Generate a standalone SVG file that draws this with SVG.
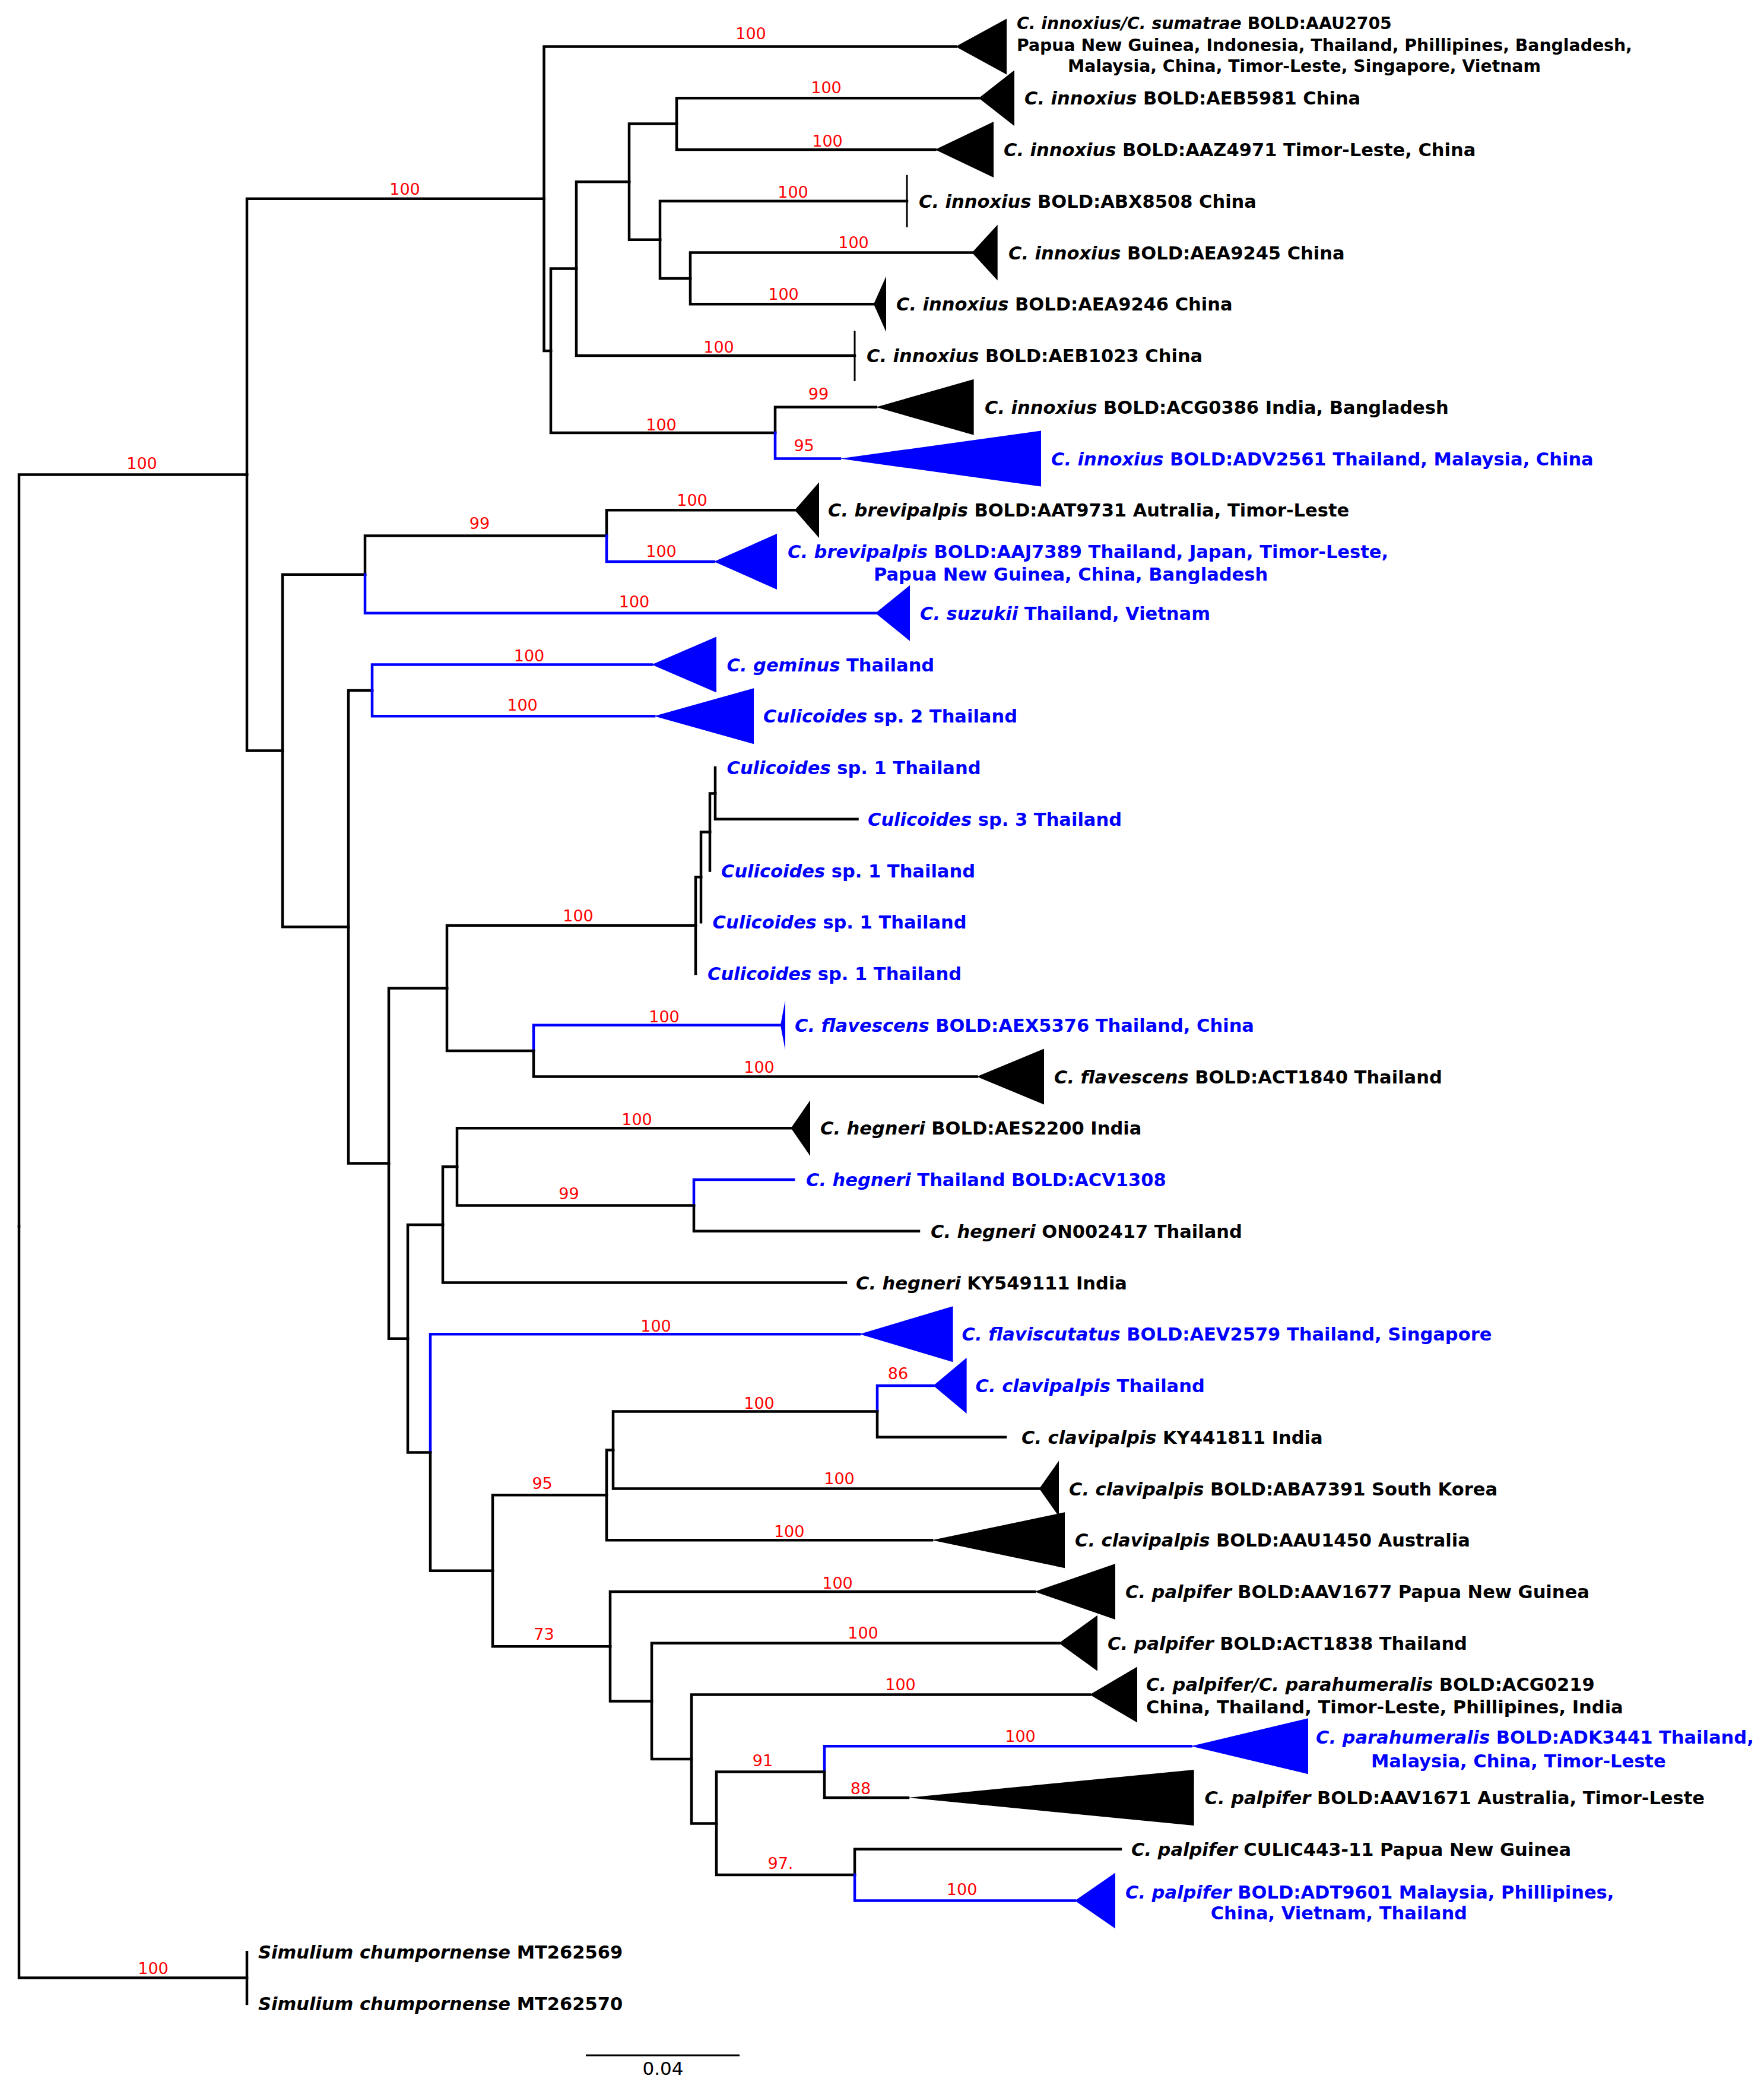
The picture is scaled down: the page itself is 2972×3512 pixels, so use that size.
<svg xmlns="http://www.w3.org/2000/svg" width="2972" height="3512" viewBox="0 0 2972 3512">
<style>
.b{fill:none;stroke:#000;stroke-width:4.5;stroke-linecap:square;stroke-linejoin:miter}
.u{stroke:#0000ff}
.bar{fill:none;stroke:#000;stroke-width:3}
.tk{fill:#000}
.tb{fill:#0000ff}
.lab{font-family:"DejaVu Sans",Verdana,sans-serif;font-weight:bold;font-size:30.5px;fill:#000}
.sm{font-size:28.3px}
.lb{fill:#0000ff}
.it{font-style:italic}
.sup{font-family:"DejaVu Sans",Verdana,sans-serif;font-size:27px;fill:#ff0000;text-anchor:middle}
.sc{font-family:"DejaVu Sans",Verdana,sans-serif;font-size:31px;fill:#000;text-anchor:middle}
</style>
<rect width="2972" height="3512" fill="#fff"/>
<g id="connectors">
<path class="b" d="M32 2065.6V799.6H416"/>
<path class="b" d="M32 2065.6V3331.6H416"/>
<path class="b" d="M416 3288.25V3375"/>
<path class="b" d="M416 799.6V334.7H916.5"/>
<path class="b" d="M416 799.6V1264.5H476"/>
<path class="b" d="M916.5 334.7V78.5H1610"/>
<path class="b" d="M916.5 334.7V590.9H928"/>
<path class="b" d="M928 590.9V452.6H971"/>
<path class="b" d="M928 590.9V729.1H1306"/>
<path class="b" d="M971 452.6V306.2H1060"/>
<path class="b" d="M971 452.6V599H1440"/>
<path class="b" d="M1060 306.2V208.6H1140"/>
<path class="b" d="M1060 306.2V403.8H1112"/>
<path class="b" d="M1140 208.6V165.25H1649"/>
<path class="b" d="M1140 208.6V252H1575.5"/>
<path class="b" d="M1112 403.8V338.75H1528"/>
<path class="b" d="M1112 403.8V468.9H1163"/>
<path class="b" d="M1163 468.9V425.5H1637.6"/>
<path class="b" d="M1163 468.9V512.25H1472"/>
<path class="b" d="M1306 729.1V685.75H1476"/>
<path class="b u" d="M1306 729.1V772.5H1415"/>
<path class="b" d="M476 1264.5V967.7H615"/>
<path class="b" d="M476 1264.5V1561.3H587"/>
<path class="b" d="M615 967.7V902.6H1022"/>
<path class="b u" d="M615 967.7V1032.75H1475"/>
<path class="b" d="M1022 902.6V859.25H1339"/>
<path class="b u" d="M1022 902.6V946H1203"/>
<path class="b" d="M587 1561.3V1162.9H627"/>
<path class="b" d="M587 1561.3V1959.6H655"/>
<path class="b u" d="M627 1162.9V1119.5H1098"/>
<path class="b u" d="M627 1162.9V1206.25H1102"/>
<path class="b" d="M655 1959.6V1664.4H753"/>
<path class="b" d="M655 1959.6V2254.7H687"/>
<path class="b" d="M753 1664.4V1558.7H1172"/>
<path class="b" d="M753 1664.4V1770.1H899"/>
<path class="b" d="M1172 1558.7V1477.3H1181"/>
<path class="b" d="M1172 1558.7V1640"/>
<path class="b" d="M1181 1477.3V1401.4H1196"/>
<path class="b" d="M1181 1477.3V1553.25"/>
<path class="b" d="M1196 1401.4V1336.4H1205"/>
<path class="b" d="M1196 1401.4V1466.5"/>
<path class="b" d="M1205 1336.4V1293"/>
<path class="b" d="M1205 1336.4V1379.75H1444.5"/>
<path class="b u" d="M899 1770.1V1726.75H1315"/>
<path class="b" d="M899 1770.1V1813.5H1645.6"/>
<path class="b" d="M687 2254.7V2062.9H746"/>
<path class="b" d="M687 2254.7V2446.5H725"/>
<path class="b" d="M746 2062.9V1965.3H770"/>
<path class="b" d="M746 2062.9V2160.5H1425"/>
<path class="b" d="M770 1965.3V1900.25H1332.6"/>
<path class="b" d="M770 1965.3V2030.4H1169"/>
<path class="b u" d="M1169 2030.4V1987H1337"/>
<path class="b" d="M1169 2030.4V2073.75H1548"/>
<path class="b u" d="M725 2446.5V2247.25H1448"/>
<path class="b" d="M725 2446.5V2645.8H830"/>
<path class="b" d="M830 2645.8V2518.3H1022"/>
<path class="b" d="M830 2645.8V2773.2H1028"/>
<path class="b" d="M1022 2518.3V2442.4H1033"/>
<path class="b" d="M1022 2518.3V2594.25H1570"/>
<path class="b" d="M1033 2442.4V2377.4H1478"/>
<path class="b" d="M1033 2442.4V2507.5H1751"/>
<path class="b u" d="M1478 2377.4V2334H1572.5"/>
<path class="b" d="M1478 2377.4V2420.75H1694"/>
<path class="b" d="M1028 2773.2V2681H1743"/>
<path class="b" d="M1028 2773.2V2865.4H1098"/>
<path class="b" d="M1098 2865.4V2767.75H1784"/>
<path class="b" d="M1098 2865.4V2963H1165"/>
<path class="b" d="M1165 2963V2854.5H1836"/>
<path class="b" d="M1165 2963V3071.4H1207"/>
<path class="b" d="M1207 3071.4V2984.6H1389"/>
<path class="b" d="M1207 3071.4V3158.1H1440"/>
<path class="b u" d="M1389 2984.6V2941.25H2006.6"/>
<path class="b" d="M1389 2984.6V3028H1530"/>
<path class="b" d="M1440 3158.1V3114.75H1888"/>
<path class="b u" d="M1440 3158.1V3201.5H1811"/>
</g>
<g id="support-values">
<text class="sup" x="682" y="328">100</text>
<text class="sup" x="1265" y="65.5">100</text>
<text class="sup" x="1392" y="157">100</text>
<text class="sup" x="1394" y="246.5">100</text>
<text class="sup" x="1336" y="332.6">100</text>
<text class="sup" x="1438" y="417.6">100</text>
<text class="sup" x="1320" y="504.5">100</text>
<text class="sup" x="1211" y="593.6">100</text>
<text class="sup" x="1114" y="724.8">100</text>
<text class="sup" x="1379" y="673">99</text>
<text class="sup" x="1354.6" y="760.4">95</text>
<text class="sup" x="239" y="790">100</text>
<text class="sup" x="1166" y="852">100</text>
<text class="sup" x="1114" y="938">100</text>
<text class="sup" x="808" y="891">99</text>
<text class="sup" x="1068.5" y="1023">100</text>
<text class="sup" x="891.5" y="1114">100</text>
<text class="sup" x="880" y="1197.4">100</text>
<text class="sup" x="974" y="1551.7">100</text>
<text class="sup" x="1119" y="1722">100</text>
<text class="sup" x="1279" y="1807">100</text>
<text class="sup" x="1073" y="1895">100</text>
<text class="sup" x="958.5" y="2019.7">99</text>
<text class="sup" x="1105" y="2242.5">100</text>
<text class="sup" x="1513" y="2323">86</text>
<text class="sup" x="1279" y="2372.6">100</text>
<text class="sup" x="1414" y="2500">100</text>
<text class="sup" x="1329.7" y="2589">100</text>
<text class="sup" x="913.6" y="2507.6">95</text>
<text class="sup" x="916.4" y="2762">73</text>
<text class="sup" x="1411" y="2676">100</text>
<text class="sup" x="1454" y="2760">100</text>
<text class="sup" x="1517" y="2847">100</text>
<text class="sup" x="1719" y="2934">100</text>
<text class="sup" x="1285" y="2974.5">91</text>
<text class="sup" x="1450" y="3021.7">88</text>
<text class="sup" x="1293.5" y="3148" style="text-anchor:start">97.</text>
<text class="sup" x="1620.6" y="3191.7">100</text>
<text class="sup" x="258" y="3325">100</text>
</g>
<g id="leaf-01"><polygon class="tk" points="1610,78.5 1696,31.5 1696,125.5"/>
<text class="lab sm" x="1713" y="49"><tspan class="it">C. innoxius/C. sumatrae</tspan> BOLD:AAU2705</text>
<text class="lab sm" x="1713" y="86">Papua New Guinea, Indonesia, Thailand, Phillipines, Bangladesh,</text>
<text class="lab sm" x="1799" y="121">Malaysia, China, Timor-Leste, Singapore, Vietnam</text></g>
<g id="leaf-02"><polygon class="tk" points="1649,165.25 1709,118.25 1709,212.25"/>
<text class="lab" x="1726" y="176.25"><tspan class="it">C. innoxius</tspan> BOLD:AEB5981 China</text></g>
<g id="leaf-03"><polygon class="tk" points="1575.5,252 1674,205 1674,299"/>
<text class="lab" x="1691" y="263"><tspan class="it">C. innoxius</tspan> BOLD:AAZ4971 Timor-Leste, China</text></g>
<g id="leaf-04"><line class="bar" x1="1528" y1="294.75" x2="1528" y2="382.75"/>
<text class="lab" x="1548" y="349.75"><tspan class="it">C. innoxius</tspan> BOLD:ABX8508 China</text></g>
<g id="leaf-05"><polygon class="tk" points="1637.6,425.5 1680.7,378.5 1680.7,472.5"/>
<text class="lab" x="1699" y="436.5"><tspan class="it">C. innoxius</tspan> BOLD:AEA9245 China</text></g>
<g id="leaf-06"><polygon class="tk" points="1472,512.25 1493,465.25 1493,559.25"/>
<text class="lab" x="1510" y="523.25"><tspan class="it">C. innoxius</tspan> BOLD:AEA9246 China</text></g>
<g id="leaf-07"><line class="bar" x1="1440" y1="557" x2="1440" y2="642"/>
<text class="lab" x="1460" y="610"><tspan class="it">C. innoxius</tspan> BOLD:AEB1023 China</text></g>
<g id="leaf-08"><polygon class="tk" points="1476,685.75 1640.6,638.75 1640.6,732.75"/>
<text class="lab" x="1659" y="696.75"><tspan class="it">C. innoxius</tspan> BOLD:ACG0386 India, Bangladesh</text></g>
<g id="leaf-09"><polygon class="tb" points="1415,772.5 1754,725.5 1754,819.5"/>
<text class="lab lb" x="1771" y="783.5"><tspan class="it">C. innoxius</tspan> BOLD:ADV2561 Thailand, Malaysia, China</text></g>
<g id="leaf-10"><polygon class="tk" points="1339,859.25 1380,812.25 1380,906.25"/>
<text class="lab" x="1395" y="870.25"><tspan class="it">C. brevipalpis</tspan> BOLD:AAT9731 Autralia, Timor-Leste</text></g>
<g id="leaf-11"><polygon class="tb" points="1203,946 1309,899 1309,993"/>
<text class="lab lb" x="1327" y="939.5"><tspan class="it">C. brevipalpis</tspan> BOLD:AAJ7389 Thailand, Japan, Timor-Leste,</text>
<text class="lab lb" x="1472" y="977.5">Papua New Guinea, China, Bangladesh</text></g>
<g id="leaf-12"><polygon class="tb" points="1475,1032.75 1533,985.75 1533,1079.75"/>
<text class="lab lb" x="1550" y="1043.75"><tspan class="it">C. suzukii</tspan> Thailand, Vietnam</text></g>
<g id="leaf-13"><polygon class="tb" points="1098,1119.5 1207,1072.5 1207,1166.5"/>
<text class="lab lb" x="1224.5" y="1130.5"><tspan class="it">C. geminus</tspan> Thailand</text></g>
<g id="leaf-14"><polygon class="tb" points="1102,1206.25 1270,1159.25 1270,1253.25"/>
<text class="lab lb" x="1286" y="1217.25"><tspan class="it">Culicoides</tspan> sp. 2 Thailand</text></g>
<g id="leaf-15"><text class="lab lb" x="1224.5" y="1304"><tspan class="it">Culicoides</tspan> sp. 1 Thailand</text></g>
<g id="leaf-16"><text class="lab lb" x="1462" y="1390.75"><tspan class="it">Culicoides</tspan> sp. 3 Thailand</text></g>
<g id="leaf-17"><text class="lab lb" x="1215" y="1477.5"><tspan class="it">Culicoides</tspan> sp. 1 Thailand</text></g>
<g id="leaf-18"><text class="lab lb" x="1200.6" y="1564.25"><tspan class="it">Culicoides</tspan> sp. 1 Thailand</text></g>
<g id="leaf-19"><text class="lab lb" x="1192" y="1651"><tspan class="it">Culicoides</tspan> sp. 1 Thailand</text></g>
<g id="leaf-20"><polygon class="tb" points="1315,1726.75 1323,1684.75 1323,1768.75"/>
<text class="lab lb" x="1339" y="1737.75"><tspan class="it">C. flavescens</tspan> BOLD:AEX5376 Thailand, China</text></g>
<g id="leaf-21"><polygon class="tk" points="1645.6,1813.5 1759,1766.5 1759,1860.5"/>
<text class="lab" x="1776" y="1824.5"><tspan class="it">C. flavescens</tspan> BOLD:ACT1840 Thailand</text></g>
<g id="leaf-22"><polygon class="tk" points="1332.6,1900.25 1365,1853.25 1365,1947.25"/>
<text class="lab" x="1382" y="1911.25"><tspan class="it">C. hegneri</tspan> BOLD:AES2200 India</text></g>
<g id="leaf-23"><text class="lab lb" x="1358" y="1998"><tspan class="it">C. hegneri</tspan> Thailand BOLD:ACV1308</text></g>
<g id="leaf-24"><text class="lab" x="1568" y="2084.75"><tspan class="it">C. hegneri</tspan> ON002417 Thailand</text></g>
<g id="leaf-25"><text class="lab" x="1442" y="2171.5"><tspan class="it">C. hegneri</tspan> KY549111 India</text></g>
<g id="leaf-26"><polygon class="tb" points="1448,2247.25 1605.5,2200.25 1605.5,2294.25"/>
<text class="lab lb" x="1620.6" y="2258.25"><tspan class="it">C. flaviscutatus</tspan> BOLD:AEV2579 Thailand, Singapore</text></g>
<g id="leaf-27"><polygon class="tb" points="1572.5,2334 1628.6,2287 1628.6,2381"/>
<text class="lab lb" x="1643.6" y="2345"><tspan class="it">C. clavipalpis</tspan> Thailand</text></g>
<g id="leaf-28"><text class="lab" x="1721" y="2431.75"><tspan class="it">C. clavipalpis</tspan> KY441811 India</text></g>
<g id="leaf-29"><polygon class="tk" points="1751,2507.5 1784,2460.5 1784,2554.5"/>
<text class="lab" x="1801" y="2518.5"><tspan class="it">C. clavipalpis</tspan> BOLD:ABA7391 South Korea</text></g>
<g id="leaf-30"><polygon class="tk" points="1570,2594.25 1794,2547.25 1794,2641.25"/>
<text class="lab" x="1811" y="2605.25"><tspan class="it">C. clavipalpis</tspan> BOLD:AAU1450 Australia</text></g>
<g id="leaf-31"><polygon class="tk" points="1743,2681 1879,2634 1879,2728"/>
<text class="lab" x="1896" y="2692"><tspan class="it">C. palpifer</tspan> BOLD:AAV1677 Papua New Guinea</text></g>
<g id="leaf-32"><polygon class="tk" points="1784,2767.75 1849,2720.75 1849,2814.75"/>
<text class="lab" x="1866" y="2778.75"><tspan class="it">C. palpifer</tspan> BOLD:ACT1838 Thailand</text></g>
<g id="leaf-33"><polygon class="tk" points="1836,2854.5 1916,2807.5 1916,2901.5"/>
<text class="lab" x="1931" y="2848"><tspan class="it">C. palpifer/C. parahumeralis</tspan> BOLD:ACG0219</text>
<text class="lab" x="1931" y="2885.5">China, Thailand, Timor-Leste, Phillipines, India</text></g>
<g id="leaf-34"><polygon class="tb" points="2006.6,2941.25 2204,2894.25 2204,2988.25"/>
<text class="lab lb" x="2217" y="2937"><tspan class="it">C. parahumeralis</tspan> BOLD:ADK3441 Thailand,</text>
<text class="lab lb" x="2310" y="2976.5">Malaysia, China, Timor-Leste</text></g>
<g id="leaf-35"><polygon class="tk" points="1530,3028 2011.6,2981 2011.6,3075"/>
<text class="lab" x="2029.6" y="3039"><tspan class="it">C. palpifer</tspan> BOLD:AAV1671 Australia, Timor-Leste</text></g>
<g id="leaf-36"><text class="lab" x="1906" y="3125.75"><tspan class="it">C. palpifer</tspan> CULIC443-11 Papua New Guinea</text></g>
<g id="leaf-37"><polygon class="tb" points="1811,3201.5 1879,3154.5 1879,3248.5"/>
<text class="lab lb" x="1896" y="3197.7"><tspan class="it">C. palpifer</tspan> BOLD:ADT9601 Malaysia, Phillipines,</text>
<text class="lab lb" x="2039.7" y="3232.7">China, Vietnam, Thailand</text></g>
<g id="leaf-38"><text class="lab" x="435" y="3299.25"><tspan class="it">Simulium chumpornense</tspan> MT262569</text></g>
<g id="leaf-39"><text class="lab" x="435" y="3386"><tspan class="it">Simulium chumpornense</tspan> MT262570</text></g>
<g id="scale-bar">
<line x1="987" y1="3462" x2="1246" y2="3462" stroke="#000" stroke-width="3"/>
<text class="sc" x="1117" y="3495">0.04</text>
</g>
</svg>
